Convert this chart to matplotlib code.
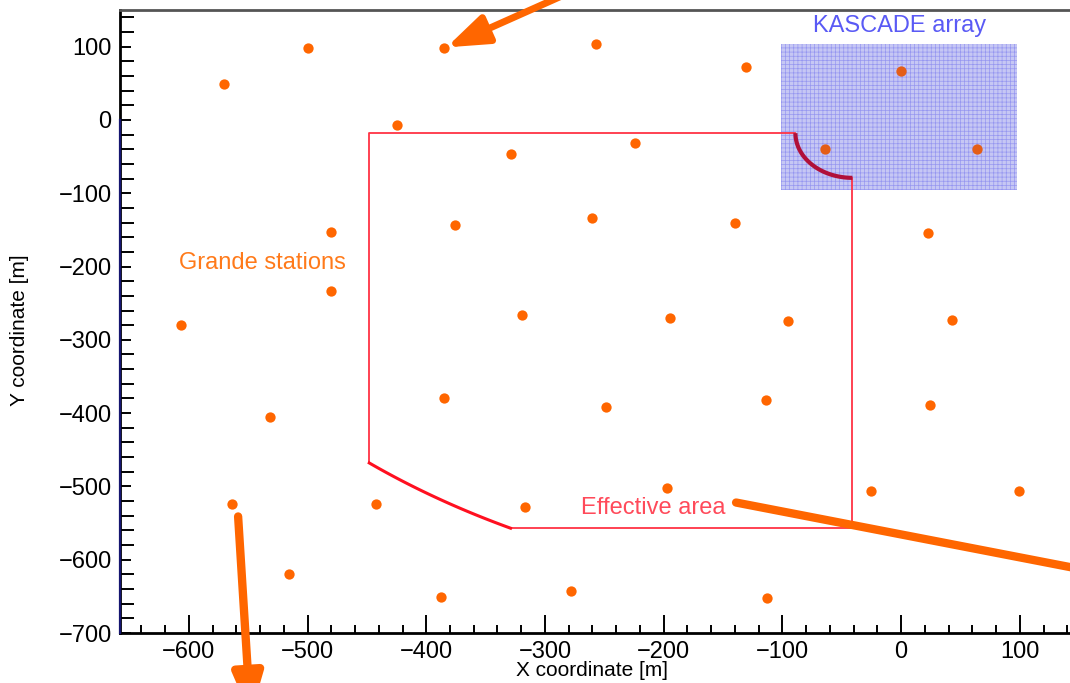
import numpy as np
import matplotlib
matplotlib.use("Agg")
import matplotlib.pyplot as plt
from matplotlib.patches import Rectangle
from matplotlib.ticker import MultipleLocator

plt.rcParams['font.family'] = ['Liberation Sans', 'DejaVu Sans']

# Grande station positions [m]
station_x = [-570, -500, -385, -257, -131, 0, -425, -329, -224, -64, 64,
             -480, -376, -260, -140, 23, -480, -607, -319, -195, -95, 43,
             -532, -385, -249, -114, 24, -564, -442, -317, -197, -25, 99,
             -516, -388, -278, -113]
station_y = [49, 98, 98, 104, 72, 67, -7, -46, -31, -40, -40,
             -153, -143, -134, -141, -154, -233, -280, -266, -270, -274, -273,
             -405, -379, -392, -382, -389, -524, -524, -528, -502, -506, -506,
             -619, -651, -643, -652]

# KASCADE array rectangle [m]
kascade_x = [-101, 98]
kascade_y = [-96, 104]

# Effective area outline [m]
eff_top_y = -18
eff_left_x = -448
eff_right_x = -41
eff_bottom_y = -557
eff_arc_start_x = -89      # top-right arc begins here
eff_arc_end_y = -79        # top-right arc ends here
eff_cut_pts_x = [-448, -388, -329]   # bottom-left curved cut
eff_cut_pts_y = [-468, -518, -557]

ORANGE = '#FF6600'

fig = plt.figure(figsize=(10.70, 6.83), dpi=100)
ax = fig.add_axes([120 / 1070, 50 / 683, 971 / 1070, 623 / 683])
ax.set_xlim(-658, 160)
ax.set_ylim(-700, 150)

# KASCADE array (below the stations)
plt.rcParams['hatch.linewidth'] = 0.5
kw, kh = kascade_x[1] - kascade_x[0], kascade_y[1] - kascade_y[0]
ax.add_patch(Rectangle((kascade_x[0], kascade_y[0]), kw, kh,
                       facecolor=(0.40, 0.42, 0.96, 0.22), edgecolor=(0.30, 0.30, 0.95, 0.38),
                       hatch='++++', linewidth=0, zorder=2))

# stations
ax.scatter(station_x, station_y, s=55, color=ORANGE, zorder=3, linewidths=0)

# light veil over the array (darkens stations inside)
ax.add_patch(Rectangle((kascade_x[0], kascade_y[0]), kw, kh,
                       facecolor=(0.15, 0.15, 0.75, 0.12), linewidth=0, zorder=4))

ax.text((kascade_x[0] + kascade_x[1]) / 2, 128, 'KASCADE array', color='#5A5AF5',
        fontsize=17, ha='center', va='center', zorder=5)

# Effective area: straight parts
red = '#FF3344'
ax.plot([eff_left_x, eff_left_x, eff_arc_start_x], [eff_cut_pts_y[0], eff_top_y, eff_top_y],
        color=red, lw=1.3, zorder=4)
ax.plot([eff_right_x, eff_right_x, eff_cut_pts_x[2]], [eff_arc_end_y, eff_bottom_y, eff_bottom_y],
        color=red, lw=1.3, zorder=4)

# top-right arc (quadrant of ellipse around the corner)
rx = eff_right_x - eff_arc_start_x
ry = eff_top_y - eff_arc_end_y
th = np.linspace(np.pi, 1.5 * np.pi, 60)
ax.plot(eff_right_x + rx * np.cos(th), eff_top_y + ry * np.sin(th),
        color='#B0103A', lw=3, zorder=5, solid_capstyle='butt')

# bottom-left curved cut: circle through three points
(x1, x2, x3), (y1, y2, y3) = eff_cut_pts_x, eff_cut_pts_y
d = 2 * (x1 * (y2 - y3) + x2 * (y3 - y1) + x3 * (y1 - y2))
ux = ((x1**2 + y1**2) * (y2 - y3) + (x2**2 + y2**2) * (y3 - y1) + (x3**2 + y3**2) * (y1 - y2)) / d
uy = ((x1**2 + y1**2) * (x3 - x2) + (x2**2 + y2**2) * (x1 - x3) + (x3**2 + y3**2) * (x2 - x1)) / d
r = np.hypot(x1 - ux, y1 - uy)
a1 = np.arctan2(y1 - uy, x1 - ux)
a3 = np.arctan2(y3 - uy, x3 - ux)
if abs(a3 - a1) > np.pi:
    a3 += 2 * np.pi * (-1 if a3 > a1 else 1)
aa = np.linspace(a1, a3, 80)
ax.plot(ux + r * np.cos(aa), uy + r * np.sin(aa), color='#FF1020', lw=2.2, zorder=4)

ax.text(-209, -529, 'Effective area', color='#FF4A5A', fontsize=17,
        ha='center', va='center', zorder=5)
ax.text(-538, -195, 'Grande stations', color='#FF7A1A', fontsize=17,
        ha='center', va='center', zorder=5)

# arrows (annotation overlays)
head = '-|>,head_length=1.25,head_width=0.45'
ax.annotate('', xy=(-383, 99), xytext=(-250, 195), xycoords='data',
            annotation_clip=False,
            arrowprops=dict(arrowstyle=head, color=ORANGE,
                            lw=5, shrinkA=0, shrinkB=0, mutation_scale=20), zorder=6)
ax.annotate('', xy=(-548, -813), xytext=(-558.5, -541), xycoords='data',
            annotation_clip=False,
            arrowprops=dict(arrowstyle=head, color=ORANGE,
                            lw=6, shrinkA=0, shrinkB=0, mutation_scale=20), zorder=6)
ax.annotate('', xy=(190, -625), xytext=(-139, -522), xycoords='data',
            annotation_clip=False,
            arrowprops=dict(arrowstyle='-', color=ORANGE, lw=6, shrinkA=0, shrinkB=0), zorder=6)

# axes styling (ROOT-like)
ax.xaxis.set_major_locator(MultipleLocator(100))
ax.xaxis.set_minor_locator(MultipleLocator(20))
ax.yaxis.set_major_locator(MultipleLocator(100))
ax.yaxis.set_minor_locator(MultipleLocator(20))
ax.tick_params(axis='both', which='both', direction='in', top=False, right=False,
               labelsize=17, colors='black')
ax.tick_params(axis='y', which='major', length=21.5, width=1.4, pad=6)
ax.tick_params(axis='y', which='minor', length=10, width=1.4)
ax.tick_params(axis='x', which='major', length=13, width=1.4, pad=6)
ax.tick_params(axis='x', which='minor', length=6, width=1.4)
for t in ax.yaxis.get_major_ticks():
    if abs(t.get_loc()) < 1e-9:
        t.tick1line.set_markersize(8)

for s in ['left', 'bottom']:
    ax.spines[s].set_linewidth(2)
    ax.spines[s].set_color('black')
ax.spines['top'].set_linewidth(2)
ax.spines['top'].set_color('#555555')
ax.spines['right'].set_visible(False)
ax.plot([-658, -658], [0, -700], color='#151570', lw=1.6, clip_on=False, zorder=7)

fig.text(592 / 1070, 1 - 671 / 683, 'X coordinate [m]', fontsize=15, ha='center', va='center')
fig.text(20 / 1070, 1 - 330 / 683, 'Y coordinate [m]', fontsize=15, ha='center', va='center',
         rotation=90)

fig.savefig('out.png', dpi=100)
